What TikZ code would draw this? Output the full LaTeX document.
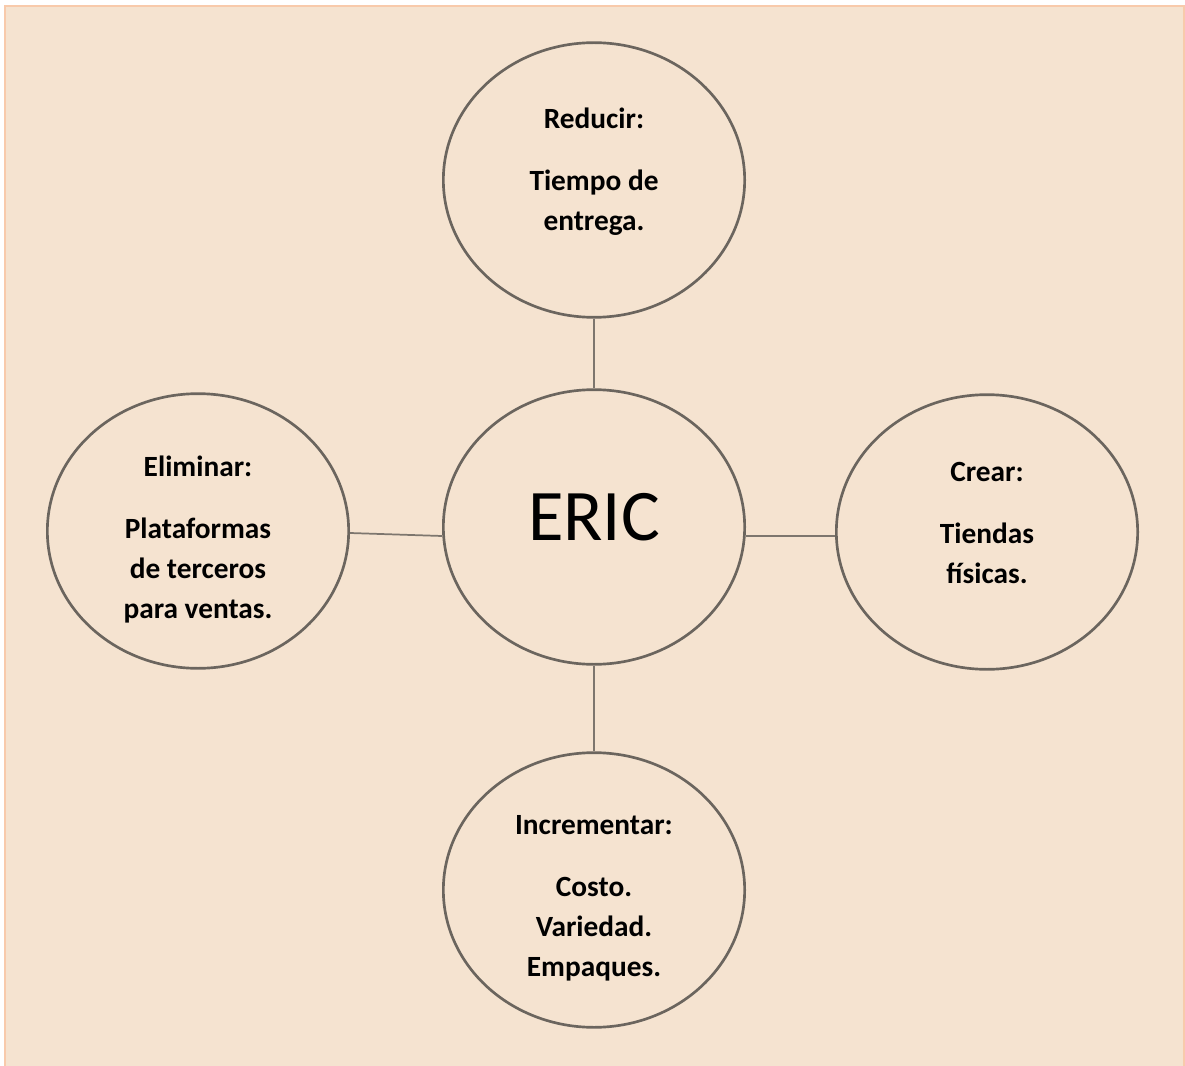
\documentclass[tikz,border=0pt]{standalone}
\usepackage{fontspec}
\setmainfont{Carlito}
\usetikzlibrary{shapes.geometric}
\definecolor{paper}{HTML}{F5E3D0}
\definecolor{paperedge}{HTML}{F8CAAB}
\definecolor{ringgray}{HTML}{6B655E}
\definecolor{linkgray}{HTML}{7D766E}

\begin{document}
\begin{tikzpicture}[x=0.75pt,y=-0.75pt]
        % Define styles
        \tikzset{
            bubble/.style={ellipse, draw=ringgray, line width=2pt, minimum width=226pt, minimum height=206pt, inner sep=0pt},
            txt/.style={align=center, inner sep=0pt, font=\fontsize{22}{30}\selectfont\bfseries},
            link/.style={draw=linkgray, line width=1.3pt}
        }
        % Page background
        \useasboundingbox (0,0) rectangle (1185,1066);
        \fill[paper] (5,6) rectangle (1185,1066);
        \draw[paperedge, line width=1.5pt] (1184,1066) -- (1184,6) -- (5,6) -- (5,1066);
        % Centre bubble
        \node[bubble] (eric) at (594,527) {};
        \node[font=\fontsize{54.5}{60}\selectfont] (eric-txt) at ([yshift=7.5pt]eric) {ERIC};
        % The four actions
        \node[bubble] (reducir) at (594,180) {};
        \node[txt] (reducir-txt) at ([yshift=6pt]reducir) {Reducir:\\[16.5pt] Tiempo de\\ entrega.};
        \node[bubble] (eliminar) at (198,531) {};
        \node[txt] (eliminar-txt) at ([yshift=-6.75pt]eliminar) {Eliminar:\\[16.5pt] Plataformas\\ de terceros\\ para ventas.};
        \node[bubble] (crear) at (987,532) {};
        \node[txt] (crear-txt) at ([yshift=6.75pt]crear) {Crear:\\[16.5pt] Tiendas\\ físicas.};
        \node[bubble] (incrementar) at (594,890) {};
        \node[txt] (incrementar-txt) at ([yshift=-6pt]incrementar) {Incrementar:\\[16.5pt] Costo.\\ Variedad.\\ Empaques.};
        % Connectors
        \draw[link] (reducir) -- (eric);
        \draw[link] (eric) -- (incrementar);
        \draw[link] ([yshift=-1.5pt]eliminar.east) -- ([yshift=-6.75pt]eric.west);
        \draw[link] ([yshift=-6.75pt]eric.east) -- ([yshift=-3pt]crear.west);
    \end{tikzpicture}
\end{document}
